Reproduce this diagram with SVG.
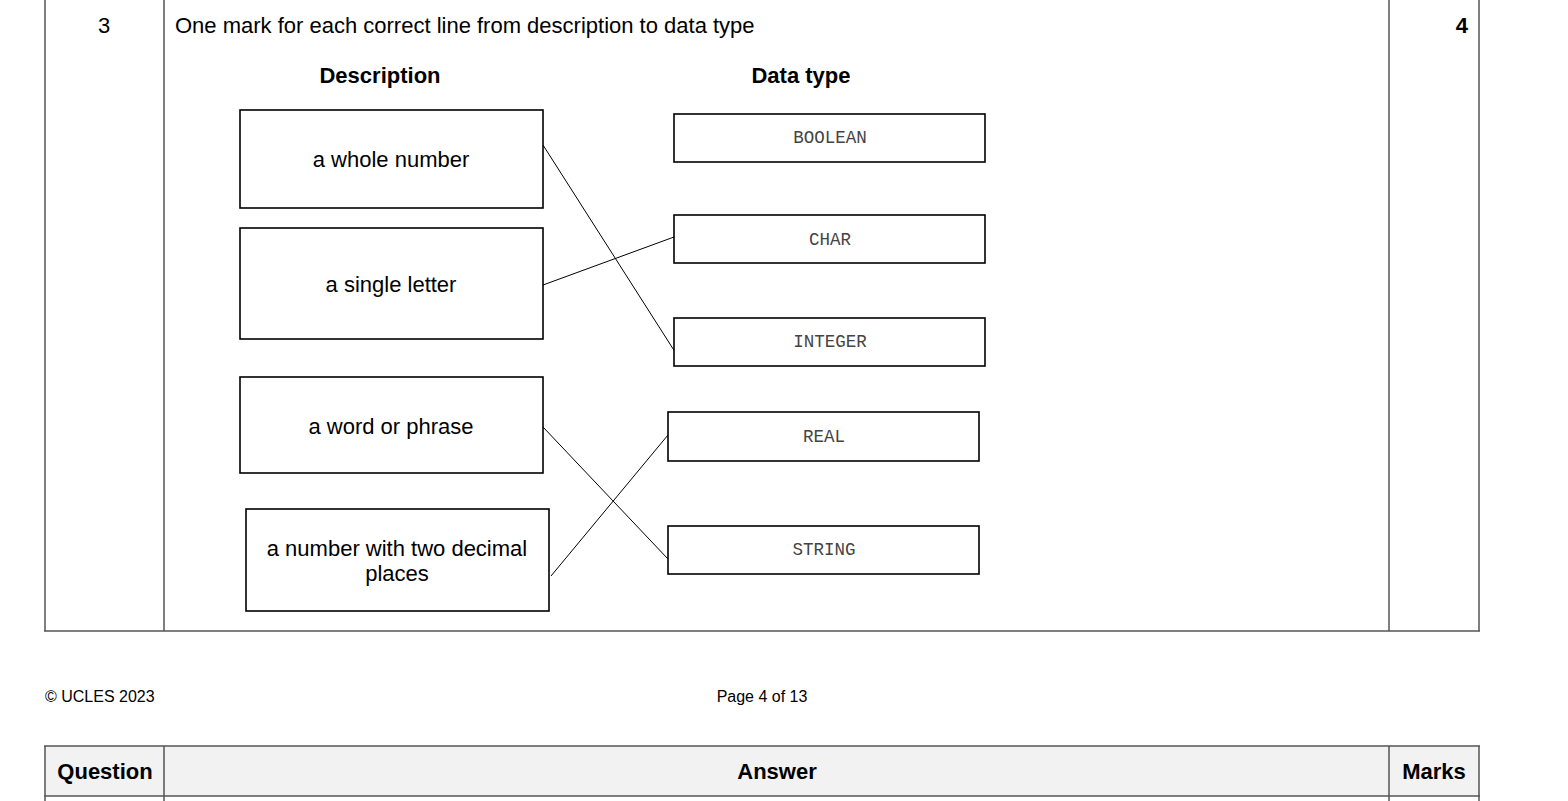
<svg xmlns="http://www.w3.org/2000/svg" width="1568" height="801" viewBox="0 0 1568 801">
<style>
.grid{stroke:#555;stroke-width:1.5;fill:none}
.box{fill:#fff;stroke:#000;stroke-width:1.6}
.t{font-family:"Liberation Sans",Arial,sans-serif;font-size:22px;fill:#000}
.b{font-weight:bold}
.m{font-family:"Liberation Mono","Courier New",monospace;font-size:17.5px;fill:#444;text-anchor:middle}
.c{text-anchor:middle}
.s{font-size:16px}
.conn{stroke:#000;stroke-width:1;fill:none}
</style>
<rect width="1568" height="801" fill="#fff"/>
<g id="table">
<line class="grid" x1="45" y1="0" x2="45" y2="631"/>
<line class="grid" x1="164" y1="0" x2="164" y2="631"/>
<line class="grid" x1="1389" y1="0" x2="1389" y2="631"/>
<line class="grid" x1="1479" y1="0" x2="1479" y2="631"/>
<line class="grid" x1="44" y1="631" x2="1480" y2="631"/>
<text class="t c" x="104" y="33">3</text>
<text class="t" x="175" y="33">One mark for each correct line from description to data type</text>
<text class="t b" x="1468" y="33" text-anchor="end">4</text>
<text class="t b c" x="380" y="83">Description</text>
<text class="t b c" x="801" y="83">Data type</text>
</g>
<g id="connectors">
<line class="conn" x1="543" y1="145" x2="677" y2="355"/>
<line class="conn" x1="543" y1="285" x2="674" y2="237"/>
<line class="conn" x1="543" y1="427" x2="668" y2="559"/>
<line class="conn" x1="551" y1="576" x2="668" y2="435"/>
</g>
<g id="d1"><rect class="box" x="240" y="110" width="303" height="98"/><text class="t c" x="391" y="167">a whole number</text></g>
<g id="d2"><rect class="box" x="240" y="228" width="303" height="111"/><text class="t c" x="391" y="292">a single letter</text></g>
<g id="d3"><rect class="box" x="240" y="377" width="303" height="96"/><text class="t c" x="391" y="434">a word or phrase</text></g>
<g id="d4"><rect class="box" x="246" y="509" width="303" height="102"/><text class="t c" x="397" y="556">a number with two decimal</text><text class="t c" x="397" y="581">places</text></g>
<g id="t1"><rect class="box" x="674" y="114" width="311" height="48"/><text class="m" x="830" y="143">BOOLEAN</text></g>
<g id="t2"><rect class="box" x="674" y="215" width="311" height="48"/><text class="m" x="830" y="245">CHAR</text></g>
<g id="t3"><rect class="box" x="674" y="318" width="311" height="48"/><text class="m" x="830" y="347">INTEGER</text></g>
<g id="t4"><rect class="box" x="668" y="412" width="311" height="49"/><text class="m" x="824" y="442">REAL</text></g>
<g id="t5"><rect class="box" x="668" y="526" width="311" height="48"/><text class="m" x="824" y="555">STRING</text></g>
<g id="footer">
<text class="t s" x="45" y="702">© UCLES 2023</text>
<text class="t s c" x="762" y="702">Page 4 of 13</text>
</g>
<g id="header">
<rect x="45" y="746" width="1434" height="50" fill="#f2f2f2"/>
<line class="grid" x1="44" y1="746" x2="1480" y2="746"/>
<line class="grid" x1="44" y1="796" x2="1480" y2="796"/>
<line class="grid" x1="45" y1="746" x2="45" y2="801"/>
<line class="grid" x1="164" y1="746" x2="164" y2="801"/>
<line class="grid" x1="1389" y1="746" x2="1389" y2="801"/>
<line class="grid" x1="1479" y1="746" x2="1479" y2="801"/>
<text class="t b c" x="105" y="779">Question</text>
<text class="t b c" x="777" y="779">Answer</text>
<text class="t b c" x="1434" y="779">Marks</text>
</g>
</svg>
